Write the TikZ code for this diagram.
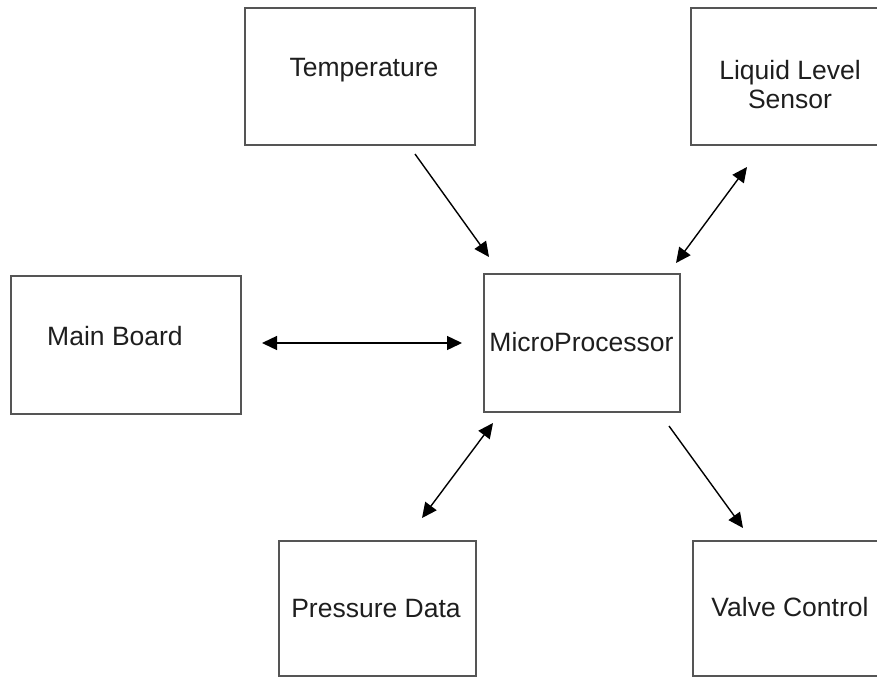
\documentclass[tikz,border=0pt]{standalone}
\usepackage{fontspec}
\setmainfont{Liberation Sans}
\usetikzlibrary{arrows.meta}
\definecolor{boxline}{RGB}{85,85,85}
\definecolor{txt}{RGB}{30,30,30}
\begin{document}
\begin{tikzpicture}[x=1pt,y=-1pt,
  blk/.style={draw=boxline,line width=1.6pt,inner sep=0pt,anchor=north west},
  lbl/.style={anchor=base,inner sep=0pt,text=txt,font=\fontsize{26.5}{31}\selectfont},
  conn/.style={line width=1.4pt,black},
  tipA/.style={-{Triangle[length=15pt,width=14pt]}},
  tipB/.style={{Triangle[length=15pt,width=14pt]}-{Triangle[length=15pt,width=14pt]}}]
\useasboundingbox (0,0) rectangle (877,677);
% boxes
\node[blk,minimum width=230pt,minimum height=137pt] (temp) at (244,7) {};
\node[blk,minimum width=200pt,minimum height=137pt] (liq) at (690,7) {};
\node[blk,minimum width=230pt,minimum height=138pt] (main) at (10,275) {};
\node[blk,minimum width=196pt,minimum height=138pt] (micro) at (483,273) {};
\node[blk,minimum width=197pt,minimum height=135pt] (pres) at (278,540) {};
\node[blk,minimum width=200pt,minimum height=135pt] (valve) at (692,540) {};
% labels
\node[lbl] (ttemp) at (364,76) {Temperature};
\node[lbl] (tliq1) at (790,79) {Liquid Level};
\node[lbl] (tliq2) at (790,108) {Sensor};
\node[lbl] (tmain) at (115,345) {Main Board};
\node[lbl] (tmicro) at (581.5,351) {MicroProcessor};
\node[lbl] (tpres) at (376,617) {Pressure Data};
\node[lbl] (tvalve) at (790,616) {Valve Control};
% connector ends
\coordinate (t1) at (415,154);
\coordinate (t2) at (489,257);
\coordinate (l1) at (676,263);
\coordinate (l2) at (747,167);
\coordinate (m1) at (262,343);
\coordinate (m2) at (462,343);
\coordinate (p1) at (493,423);
\coordinate (p2) at (422,518);
\coordinate (v1) at (669,426);
\coordinate (v2) at (743,528);
% connectors
\draw[conn,tipA] (t1) -- (t2);
\draw[conn,tipB] (l1) -- (l2);
\draw[conn,tipB] (m1) -- (m2);
\draw[conn,tipB] (p1) -- (p2);
\draw[conn,tipA] (v1) -- (v2);
\end{tikzpicture}
\end{document}
